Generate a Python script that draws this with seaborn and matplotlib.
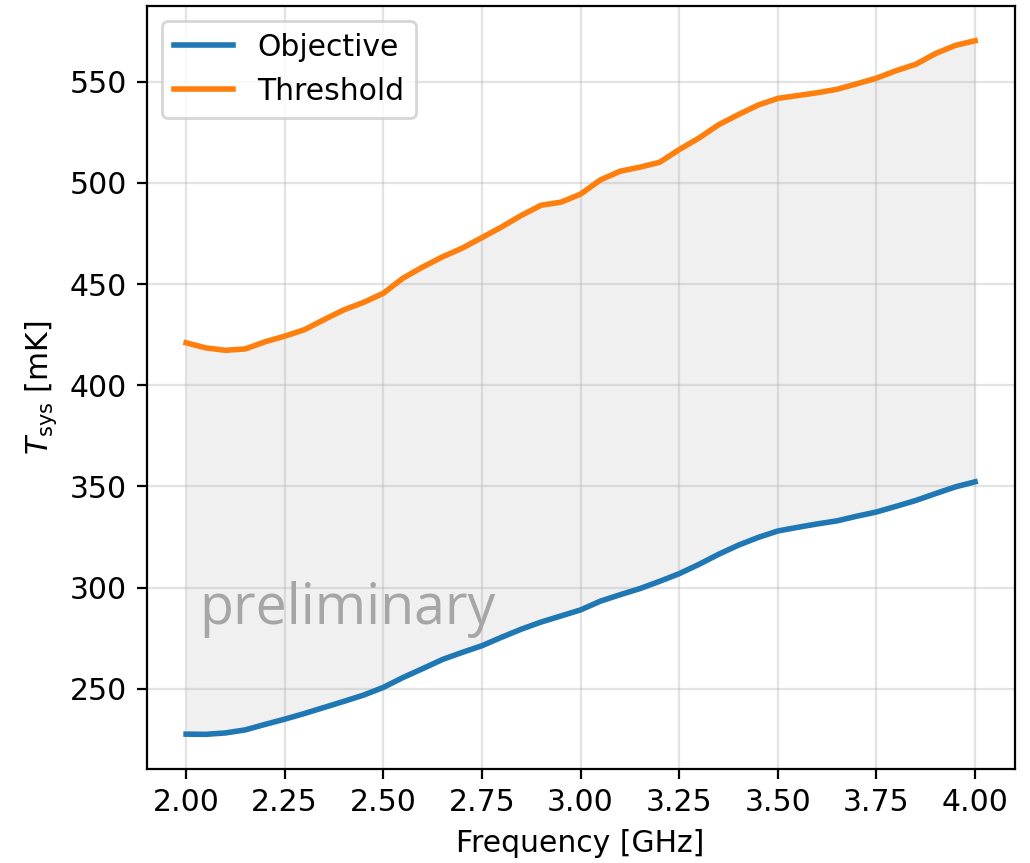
import numpy as np
import pandas as pd
import matplotlib
matplotlib.use("Agg")
import matplotlib.pyplot as plt
import seaborn as sns

# Frequency grid [GHz]
freq_ghz = [2.00, 2.05, 2.10, 2.15, 2.20, 2.25, 2.30, 2.35, 2.40, 2.45,
            2.50, 2.55, 2.60, 2.65, 2.70, 2.75, 2.80, 2.85, 2.90, 2.95,
            3.00, 3.05, 3.10, 3.15, 3.20, 3.25, 3.30, 3.35, 3.40, 3.45,
            3.50, 3.55, 3.60, 3.65, 3.70, 3.75, 3.80, 3.85, 3.90, 3.95,
            4.00]

# System temperature requirement [mK]
tsys_objective = [227.6, 227.5, 228.2, 229.7, 232.4, 235.0, 237.8, 240.8, 243.8, 246.9,
                  250.7, 255.6, 260.0, 264.5, 268.0, 271.3, 275.5, 279.5, 283.0, 286.0,
                  289.0, 293.3, 296.5, 299.5, 303.1, 306.9, 311.5, 316.5, 321.0, 324.8,
                  328.0, 329.8, 331.5, 333.0, 335.3, 337.4, 340.2, 343.1, 346.5, 349.8,
                  352.3]
tsys_threshold = [421.0, 418.5, 417.3, 418.0, 421.5, 424.3, 427.5, 432.5, 437.3, 441.0,
                  445.5, 453.0, 458.5, 463.5, 467.8, 473.0, 478.3, 484.0, 489.0, 490.5,
                  494.5, 501.5, 505.8, 507.8, 510.2, 516.5, 522.2, 528.8, 533.8, 538.5,
                  541.8, 543.2, 544.6, 546.3, 549.0, 551.8, 555.5, 558.7, 564.0, 568.0,
                  570.3]

series_names = ["Objective", "Threshold"]
xtick_labels = ["2.00", "2.25", "2.50", "2.75", "3.00", "3.25", "3.50", "3.75", "4.00"]

df = pd.DataFrame({
    "freq": freq_ghz * 2,
    "tsys": tsys_objective + tsys_threshold,
    "spec": [series_names[0]] * len(freq_ghz) + [series_names[1]] * len(freq_ghz),
})

plt.rcParams["font.size"] = 10.75

fig = plt.figure(figsize=(5.15, 4.315), dpi=200)
ax = fig.add_axes([0.1424, 0.1089, 0.8426, 0.8841])

ax.fill_between(freq_ghz, tsys_objective, tsys_threshold,
                color="#f0f0f0", lw=0, zorder=0)

sns.lineplot(data=df, x="freq", y="tsys", hue="spec",
             palette=["#1f77b4", "#ff7f0e"], linewidth=2, ax=ax, zorder=3)

ax.grid(True, color="#b0b0b0", alpha=0.35, linewidth=0.8)
for line in ax.get_xgridlines() + ax.get_ygridlines():
    line.set_zorder(1)

ax.set_xticks([float(t) for t in xtick_labels])
ax.set_xticklabels(xtick_labels)
ax.set_xlabel("Frequency [GHz]")
ax.set_ylabel(r"$T_{\rm sys}$ [mK]")

ax.text(0.061, 0.19, "preliminary", transform=ax.transAxes,
        fontsize=20, color="#a6a6a6", family="Open Sans",
        ha="left", va="baseline", zorder=2)

leg = ax.legend(loc="upper left", title=None)
for l in leg.get_lines():
    l.set_linewidth(2)

fig.savefig("out.png", dpi=200)
